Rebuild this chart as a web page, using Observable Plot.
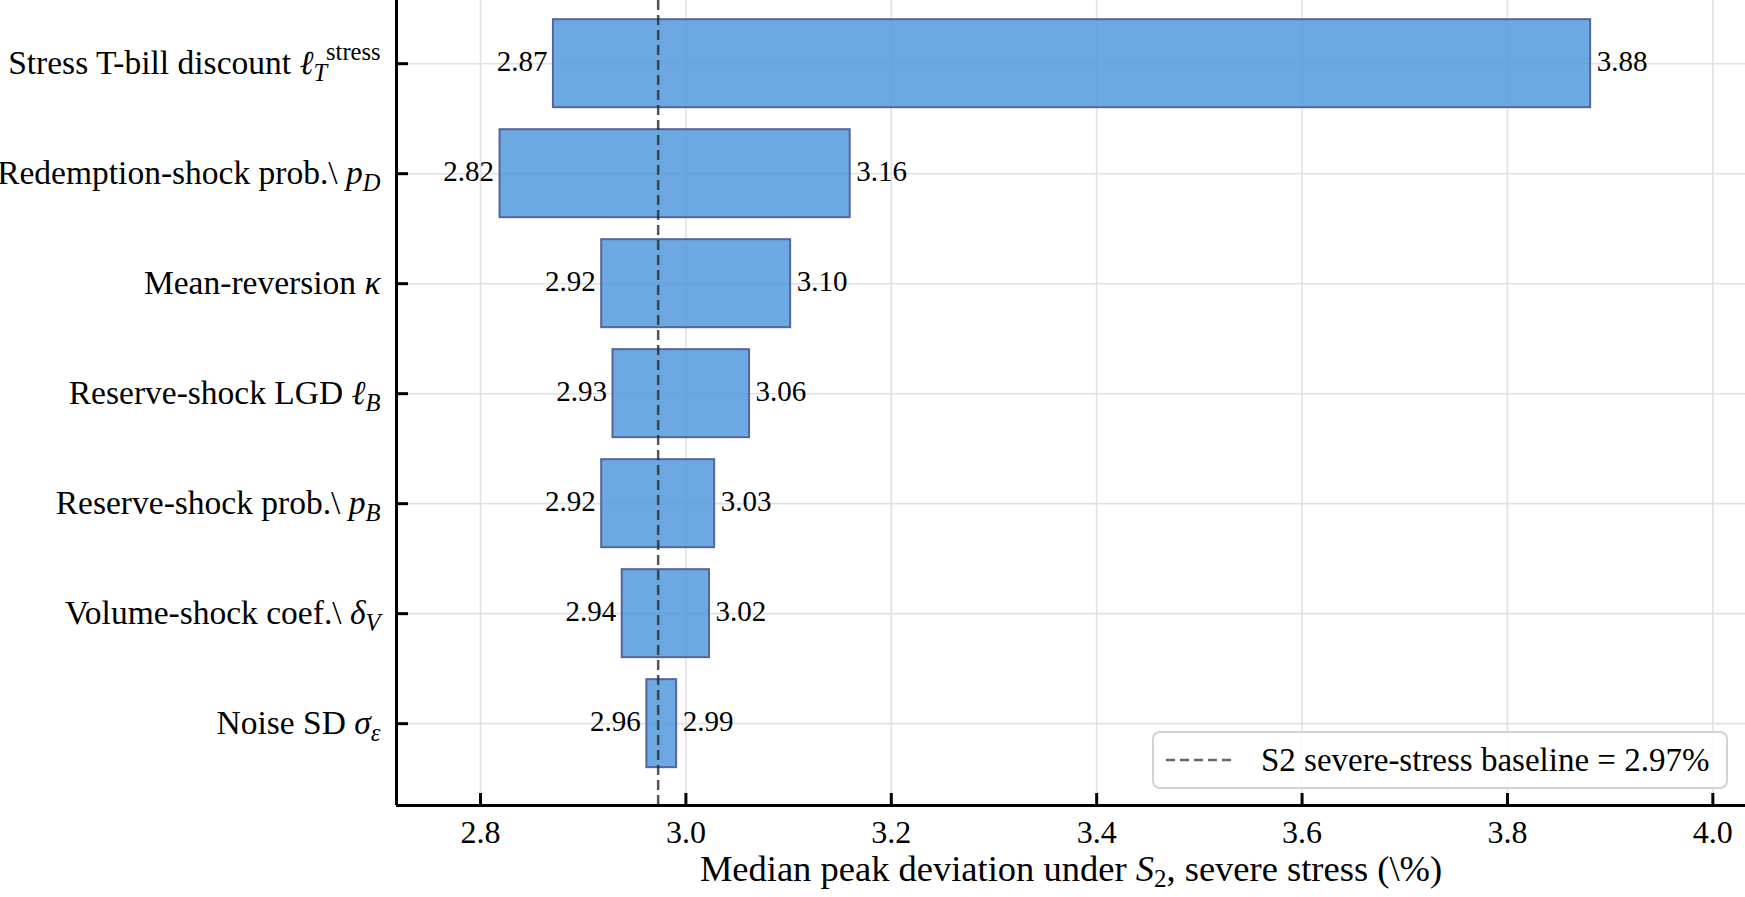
<!DOCTYPE html>
<html>
<head>
<meta charset="utf-8">
<script src="https://cdn.jsdelivr.net/npm/d3@7"></script>
<script src="https://cdn.jsdelivr.net/npm/@observablehq/plot@0.6"></script>
<style>
  html, body { margin: 0; padding: 0; background: #fff; }
  #wrap { position: relative; width: 1745px; height: 897px; overflow: hidden; font-family: "Liberation Serif", "Times New Roman", serif; }
  #legend { position: absolute; left: 1152px; top: 731px; width: 572px; height: 54px;
            border: 2px solid #d3d3d3; border-radius: 8px; background: rgba(255,255,255,0.8);
            display: flex; align-items: center; box-sizing: content-box; }
  #legend svg { margin-left: 12px; }
  #legend span { margin-left: 27px; font-size: 33px; color: #000; white-space: nowrap; }
  svg text { font-variant-numeric: normal; }
</style>
</head>
<body>
<div id="wrap"></div>
<script>
// ---- data ----
const params  = ["Stress T-bill discount", "Redemption-shock prob.\\", "Mean-reversion", "Reserve-shock LGD", "Reserve-shock prob.\\", "Volume-shock coef.\\", "Noise SD"];
const symbols = ["ℓ", "p", "κ", "ℓ", "p", "δ", "σ"];
const subs    = ["T", "D", "", "B", "B", "V", "ε"];
const sups    = ["stress", "", "", "", "", "", ""];
const lowVals  = [2.871, 2.819, 2.918, 2.929, 2.918, 2.938, 2.962];
const highVals = [3.881, 3.160, 3.102, 3.062, 3.028, 3.023, 2.991];
const baseline = 2.973;
const xTicks = [2.8, 3.0, 3.2, 3.4, 3.6, 3.8, 4.0];
const xDomain = [2.7182, 4.0318];
const yDomain = [-0.5745, 6.744];
const xLabelParts = ["Median peak deviation under ", "S", "2", ", severe stress (\\%)"];
const legendText = "S2 severe-stress baseline = 2.97%";

const rowIdx = params.map((_, i) => i);
const rows = rowIdx.map(i => ({i, low: lowVals[i], high: highVals[i]}));
const fmt2 = d3.format(".2f");
const xLabel = xLabelParts.join("");

const W = 1745, H = 897, mL = 396, mB = 92;
const plotW = W - mL, plotH = H - mB;

const chart = Plot.plot({
  width: W, height: H,
  marginLeft: mL, marginRight: 0, marginTop: 0, marginBottom: mB,
  style: {fontFamily: "'Liberation Serif', 'Times New Roman', serif", fontSize: "33px", background: "#fff", color: "#000", overflow: "visible"},
  x: {domain: xDomain},
  y: {domain: yDomain, reverse: true},
  marks: [
    Plot.gridX(xTicks, {stroke: "#e1e1e4", strokeOpacity: 1, strokeWidth: 1.6}),
    Plot.gridY(rowIdx, {stroke: "#e1e1e4", strokeOpacity: 1, strokeWidth: 1.6}),
    Plot.rect(rows, {x1: "low", x2: "high", y1: d => d.i - 0.4, y2: d => d.i + 0.4,
      fill: "#529ade", fillOpacity: 0.85, stroke: "#55659a", strokeWidth: 2}),
    Plot.ruleX([baseline], {stroke: "#2a2a2a", strokeOpacity: 0.8, strokeWidth: 2.5, strokeDasharray: "10,5"}),
    Plot.text(rows, {x: "low", y: "i", text: d => fmt2(d.low), textAnchor: "end", dx: -6, dy: -2, fontSize: 29, fill: "#000"}),
    Plot.text(rows, {x: "high", y: "i", text: d => fmt2(d.high), textAnchor: "start", dx: 6, dy: -2, fontSize: 29, fill: "#000"}),
    // inward tick marks
    Plot.ruleX(xTicks, {insetTop: plotH - 12, stroke: "#000", strokeWidth: 3}),
    Plot.ruleY(rowIdx, {insetRight: plotW - 12, stroke: "#000", strokeWidth: 3}),
    // spines
    Plot.ruleX([xDomain[0]], {stroke: "#000", strokeWidth: 3}),
    Plot.ruleY([yDomain[1]], {stroke: "#000", strokeWidth: 3}),
    Plot.axisX(xTicks, {tickSize: 0, tickPadding: 15, tickFormat: d3.format(".1f"), label: null, fontSize: 32, fontVariant: "normal"}),
    Plot.axisY(rowIdx, {tickSize: 0, tickPadding: 16, label: null, fontSize: 33.5, fontVariant: "normal",
      tickFormat: i => `${params[i]} ${symbols[i]}${subs[i]}${sups[i]}`}),
    Plot.text([xLabel], {text: d => d, frameAnchor: "bottom", dy: 75, fontSize: 36.5, fill: "#000"})
  ]
});

const NS = "http://www.w3.org/2000/svg";
function ts(parent, text, attrs = {}) {
  const s = document.createElementNS(NS, "tspan");
  s.textContent = text;
  for (const k in attrs) s.setAttribute(k, attrs[k]);
  parent.appendChild(s);
  return s;
}
// y tick labels with math notation
chart.querySelectorAll('g[aria-label="y-axis tick label"] text').forEach((t, k) => {
  const i = rowIdx[k];
  t.textContent = "";
  ts(t, params[i] + " ");
  ts(t, symbols[i], {"font-style": "italic"});
  if (subs[i]) ts(t, subs[i], {"font-style": "italic", "font-size": "24.5px", dy: "7"});
  if (sups[i]) ts(t, sups[i], {"font-size": "24.5px", dx: "-1", dy: "-21"});
});
// x label with italic S and subscript 2
chart.querySelectorAll("text").forEach(t => {
  if (t.textContent === xLabel) {
    t.textContent = "";
    ts(t, xLabelParts[0]);
    ts(t, xLabelParts[1], {"font-style": "italic"});
    ts(t, xLabelParts[2], {"font-size": "25px", dy: "6"});
    ts(t, xLabelParts[3], {dy: "-6"});
  }
});

const wrap = document.getElementById("wrap");
wrap.appendChild(chart);

// legend (inside plot area, lower right)
const leg = document.createElement("div");
leg.id = "legend";
leg.innerHTML = `<svg width="68" height="10"><line x1="0" y1="5" x2="68" y2="5" stroke="#333" stroke-opacity="0.75" stroke-width="2.5" stroke-dasharray="9,5"/></svg><span></span>`;
leg.querySelector("span").textContent = legendText;
wrap.appendChild(leg);
</script>
</body>
</html>
